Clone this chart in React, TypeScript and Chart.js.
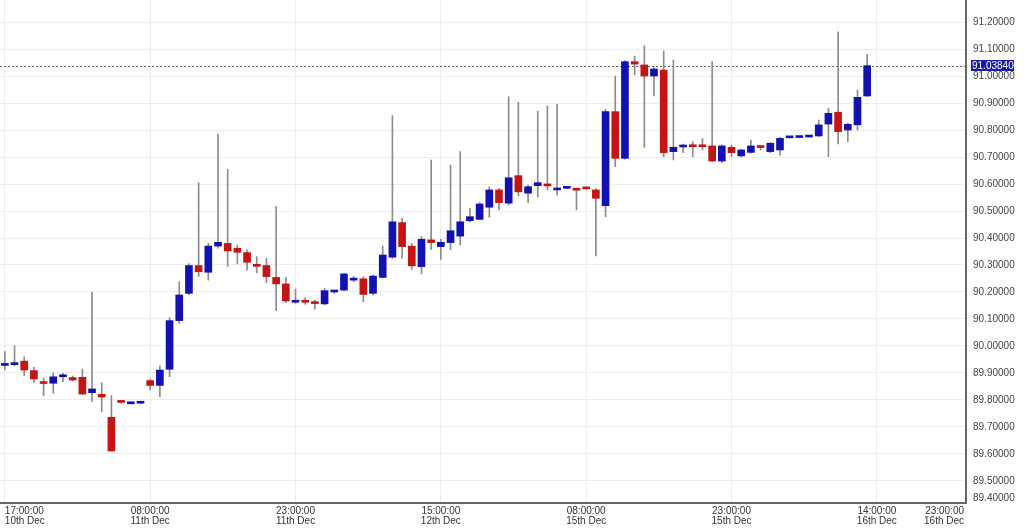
import React, { useEffect, useRef } from 'react';
import { Chart, registerables } from 'chart.js';

Chart.register(...registerables);

// Hourly candles, index 0 = 17:00 10th Dec
const opens = [
  89.928, 89.931, 89.944, 89.909, 89.863, 89.862, 89.886, 89.883, 89.884, 89.827,
  89.821, 89.736, 89.794, 89.786, 89.788, 89.872, 89.854, 89.914, 90.094, 90.195,
  90.298, 90.273, 90.370, 90.380, 90.362, 90.346, 90.299, 90.298, 90.254, 90.230,
  90.162, 90.166, 90.159, 90.156, 90.200, 90.207, 90.244, 90.249, 90.195, 90.254,
  90.329, 90.457, 90.370, 90.294, 90.393, 90.368, 90.383, 90.407, 90.464, 90.469,
  90.514, 90.578, 90.529, 90.631, 90.566, 90.594, 90.599, 90.578, 90.584, 90.579,
  90.584, 90.578, 90.520, 90.868, 90.695, 91.053, 91.041, 91.000, 91.022, 90.720,
  90.737, 90.741, 90.741, 90.741, 90.685, 90.736, 90.704, 90.717, 90.739, 90.720,
  90.726, 90.771, 90.772, 90.774, 90.778, 90.822, 90.866, 90.800, 90.819, 90.926,
];
const highs = [
  89.979, 90.001, 89.960, 89.921, 89.880, 89.901, 89.899, 89.889, 89.915, 90.199,
  89.864, 89.816, 89.797, 89.789, 89.790, 89.877, 89.927, 90.105, 90.238, 90.305,
  90.605, 90.380, 90.785, 90.654, 90.374, 90.356, 90.331, 90.325, 90.516, 90.254,
  90.211, 90.179, 90.170, 90.214, 90.205, 90.269, 90.257, 90.257, 90.263, 90.370,
  90.853, 90.473, 90.380, 90.405, 90.689, 90.395, 90.670, 90.720, 90.510, 90.531,
  90.590, 90.584, 90.923, 90.903, 90.596, 90.870, 90.889, 90.895, 90.587, 90.583,
  90.586, 90.583, 90.877, 91.000, 91.057, 91.074, 91.112, 91.034, 91.093, 91.059,
  90.748, 90.757, 90.769, 91.053, 90.744, 90.744, 90.729, 90.763, 90.744, 90.753,
  90.773, 90.775, 90.776, 90.777, 90.837, 90.880, 91.164, 90.825, 90.948, 91.080,
];
const lows = [
  89.911, 89.927, 89.890, 89.864, 89.816, 89.825, 89.868, 89.870, 89.820, 89.794,
  89.757, 89.611, 89.789, 89.785, 89.787, 89.837, 89.812, 89.886, 90.084, 90.190,
  90.257, 90.244, 90.362, 90.294, 90.304, 90.281, 90.271, 90.234, 90.131, 90.160,
  90.158, 90.154, 90.136, 90.152, 90.195, 90.205, 90.238, 90.164, 90.189, 90.252,
  90.325, 90.325, 90.284, 90.267, 90.358, 90.321, 90.356, 90.374, 90.460, 90.467,
  90.477, 90.504, 90.522, 90.556, 90.531, 90.551, 90.578, 90.559, 90.583, 90.504,
  90.581, 90.334, 90.479, 90.664, 90.692, 91.004, 90.736, 90.926, 90.701, 90.689,
  90.716, 90.701, 90.726, 90.683, 90.679, 90.701, 90.701, 90.714, 90.726, 90.716,
  90.707, 90.770, 90.771, 90.773, 90.775, 90.701, 90.748, 90.757, 90.800, 90.924,
];
const closes = [
  89.932, 89.933, 89.911, 89.878, 89.861, 89.886, 89.890, 89.874, 89.822, 89.841,
  89.811, 89.611, 89.791, 89.788, 89.789, 89.854, 89.911, 90.094, 90.189, 90.298,
  90.275, 90.370, 90.384, 90.352, 90.347, 90.310, 90.295, 90.257, 90.230, 90.167,
  90.166, 90.162, 90.157, 90.205, 90.204, 90.267, 90.248, 90.191, 90.259, 90.337,
  90.460, 90.368, 90.297, 90.395, 90.383, 90.384, 90.427, 90.460, 90.479, 90.526,
  90.578, 90.531, 90.623, 90.571, 90.590, 90.605, 90.593, 90.584, 90.586, 90.577,
  90.582, 90.547, 90.868, 90.695, 91.053, 91.044, 91.000, 91.026, 90.716, 90.736,
  90.739, 90.738, 90.738, 90.685, 90.741, 90.716, 90.726, 90.741, 90.735, 90.751,
  90.769, 90.775, 90.776, 90.777, 90.819, 90.862, 90.794, 90.821, 90.921, 91.0384,
];

// x-axis labels (candle index where each label sits)
const labelIndices = [0, 15, 30, 45, 60, 75, 90, 99];
const timeLabels = ['17:00:00', '08:00:00', '23:00:00', '15:00:00', '08:00:00', '23:00:00', '14:00:00', '23:00:00'];
const dateLabels = ['10th Dec', '11th Dec', '11th Dec', '12th Dec', '15th Dec', '15th Dec', '16th Dec', '16th Dec'];

// y-axis tick values
const yTickValues = [
  89.4, 89.5, 89.6, 89.7, 89.8, 89.9, 90.0, 90.1, 90.2, 90.3,
  90.4, 90.5, 90.6, 90.7, 90.8, 90.9, 91.0, 91.1, 91.2,
];

const lastPrice = 91.0384;

const BLUE = '#1212b0';
const RED = '#c41414';
const WICK = '#8c8c8c';
const GRID = '#ececec';
const FONT = '"Liberation Sans", Arial, sans-serif';

const lastPricePlugin = {
  id: 'lastPrice',
  beforeDatasetsDraw(chart: any) {
    const { ctx, chartArea } = chart;
    const y = Math.round(chart.scales.y.getPixelForValue(lastPrice)) + 0.5;
    ctx.save();
    ctx.strokeStyle = '#666666';
    ctx.lineWidth = 1;
    ctx.setLineDash([2, 2]);
    ctx.beginPath();
    ctx.moveTo(chartArea.left, y);
    ctx.lineTo(chartArea.right, y);
    ctx.stroke();
    ctx.restore();
  },
  afterDraw(chart: any) {
    const { ctx, chartArea } = chart;
    const y = chart.scales.y.getPixelForValue(lastPrice);
    const bx = chartArea.right + 5;
    const bw = 43;
    const bh = 11;
    ctx.save();
    ctx.fillStyle = '#1a1aa6';
    ctx.fillRect(bx, Math.round(y - bh / 2), bw, bh);
    ctx.fillStyle = '#ffffff';
    ctx.font = '10px ' + FONT;
    ctx.textBaseline = 'middle';
    ctx.textAlign = 'left';
    ctx.fillText(lastPrice.toFixed(5), bx + 1, Math.round(y - bh / 2) + bh / 2 + 0.5);
    ctx.restore();
  },
};

export default function App() {
  const ref = useRef<HTMLCanvasElement>(null);

  useEffect(() => {
    document.body.style.margin = '0';
    const idx = opens.map((_, i) => i);
    const bodyData = idx.map((i) => ({ x: i, y: [opens[i], closes[i]] }));
    const wickData = idx.map((i) => ({ x: i, y: [lows[i], highs[i]] }));
    const bodyColors = idx.map((i) => (closes[i] >= opens[i] ? BLUE : RED));

    const chart = new Chart(ref.current as HTMLCanvasElement, {
      type: 'bar',
      data: {
        datasets: [
          {
            label: 'body',
            data: bodyData as any,
            backgroundColor: bodyColors,
            borderWidth: 0,
            barThickness: 7,
            minBarLength: 2,
            grouped: false,
            order: 0,
          } as any,
          {
            label: 'wick',
            data: wickData as any,
            backgroundColor: WICK,
            borderWidth: 0,
            barThickness: 1,
            grouped: false,
            order: 1,
          } as any,
        ],
      },
      options: {
        animation: false,
        responsive: false,
        devicePixelRatio: 1,
        layout: { padding: 0 },
        plugins: {
          legend: { display: false },
          tooltip: { enabled: false },
        },
        scales: {
          x: {
            type: 'linear',
            min: -0.5,
            max: 99.2,
            offset: false,
            grid: {
              offset: false,
              color: (c: any) => (c.tick && c.tick.value === 99 ? 'rgba(0,0,0,0)' : GRID),
              drawTicks: false,
              tickLength: 0,
            },
            border: { display: true, color: '#666666', width: 2 },
            afterBuildTicks: (scale: any) => {
              scale.ticks = labelIndices.map((v) => ({ value: v }));
            },
            afterFit: (scale: any) => {
              scale.height = 25;
              scale.paddingLeft = 0;
              scale.paddingRight = 0;
            },
            ticks: {
              autoSkip: false,
              maxRotation: 0,
              minRotation: 0,
              align: 'inner',
              padding: 3,
              color: '#333333',
              font: { family: FONT, size: 10, lineHeight: 1.0 },
              callback: (_v: any, i: number) => [timeLabels[i], dateLabels[i]],
            },
          } as any,
          y: {
            type: 'linear',
            position: 'right',
            min: 89.4185,
            max: 91.2815,
            grid: {
              color: (c: any) => (c.index === 0 ? 'rgba(0,0,0,0)' : GRID),
              drawTicks: false,
              tickLength: 0,
            },
            border: { display: true, color: '#666666', width: 2 },
            afterBuildTicks: (scale: any) => {
              scale.ticks = yTickValues.map((v) => ({ value: Math.max(v, scale.min + 0.016) }));
            },
            afterFit: (scale: any) => {
              scale.width = 58;
              scale.paddingTop = 0;
              scale.paddingBottom = 0;
            },
            ticks: {
              autoSkip: false,
              padding: 7,
              color: '#444444',
              font: { family: FONT, size: 10 },
              callback: (_v: any, i: number) => yTickValues[i].toFixed(5),
            },
          } as any,
        },
      },
      plugins: [lastPricePlugin],
    } as any);

    return () => chart.destroy();
  }, []);

  return (
    <div style={{ position: 'fixed', left: 0, top: 0, width: 1024, height: 528, background: '#ffffff' }}>
      <canvas ref={ref} width={1024} height={528} style={{ display: 'block' }} />
    </div>
  );
}
